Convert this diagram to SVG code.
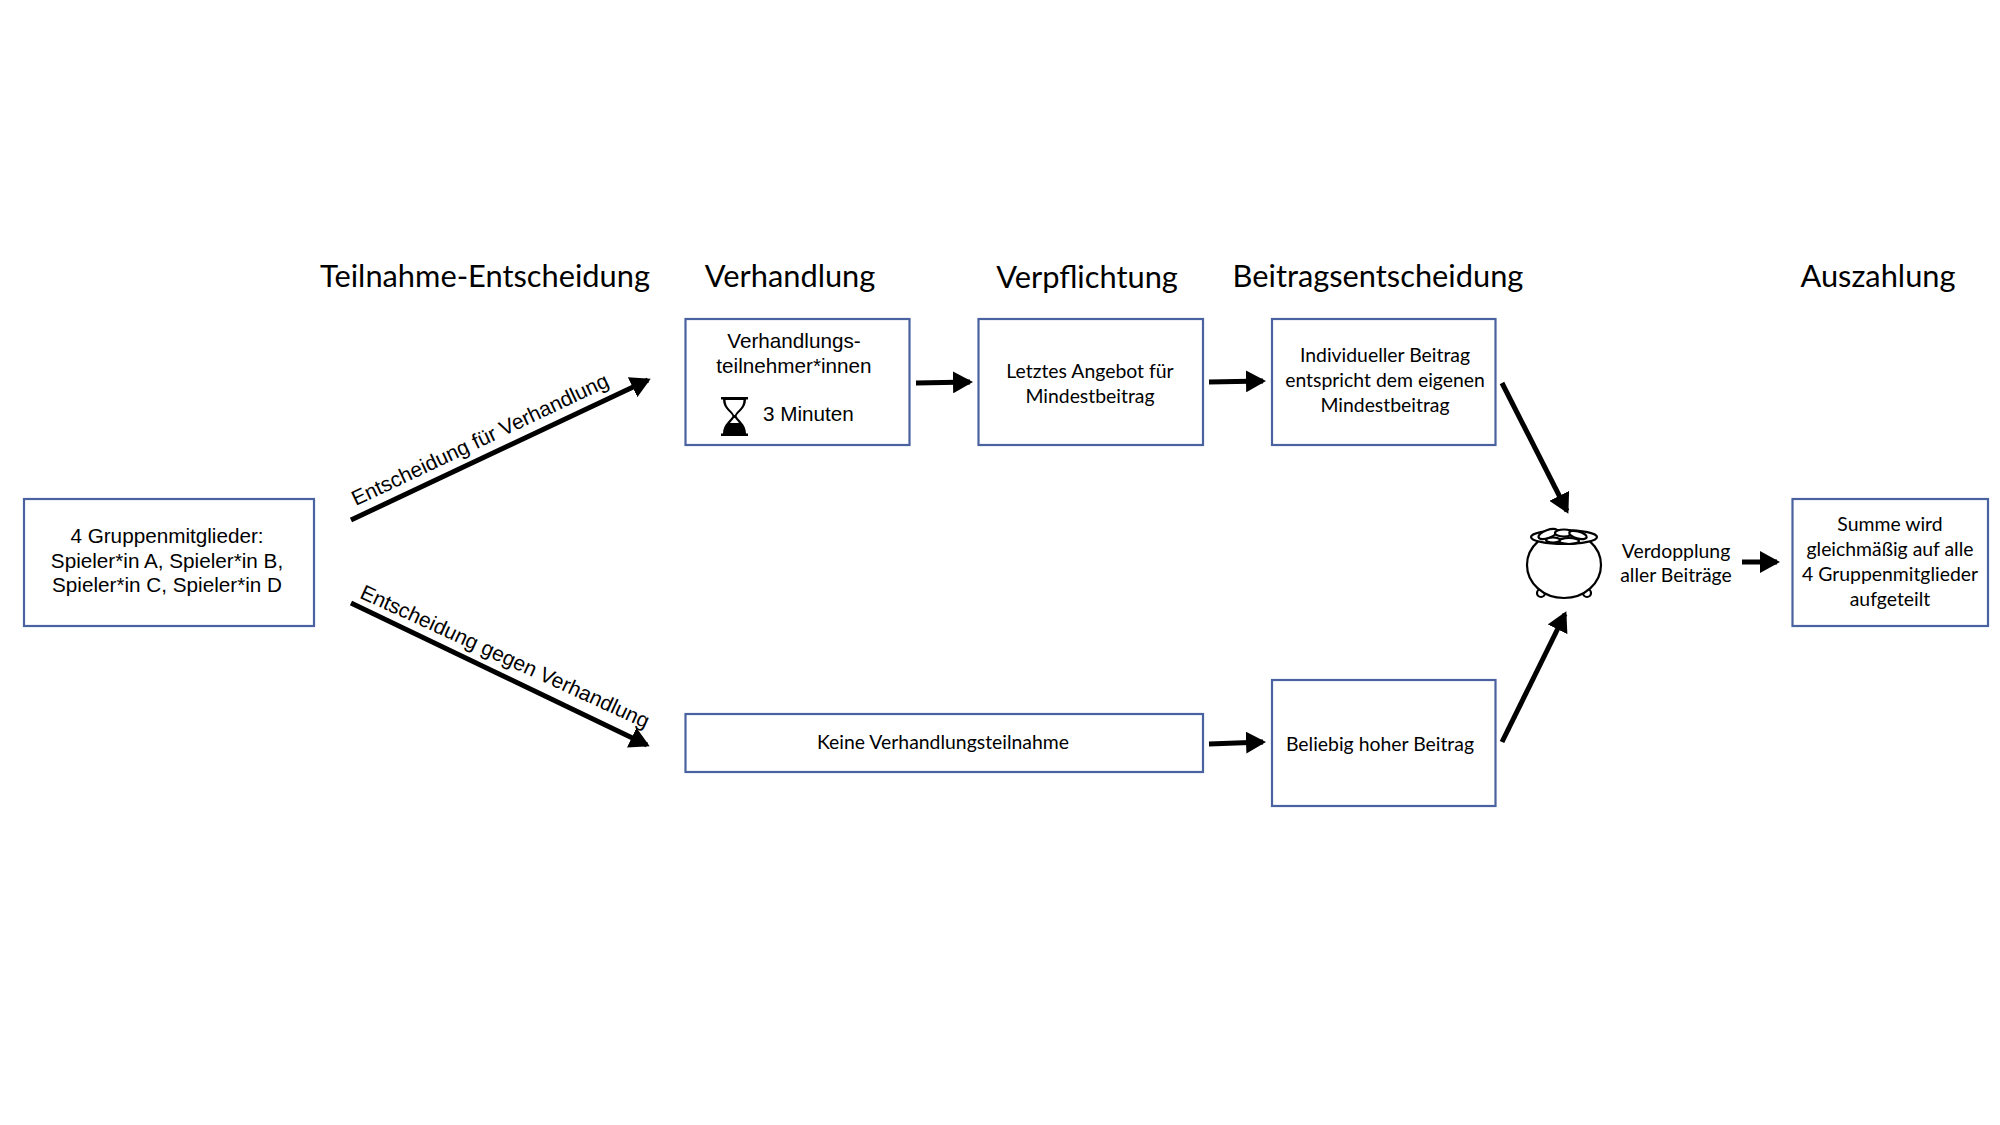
<svg xmlns="http://www.w3.org/2000/svg" width="2000" height="1125" viewBox="0 0 2000 1125">
<style>
.box{fill:#fff;stroke:#4a62a0;stroke-width:2.2}
.h{font:30.800px Lato,"Noto Sans",sans-serif;fill:#000;text-anchor:middle}
.c{font:19.400px Lato,"Noto Sans",sans-serif;fill:#000;text-anchor:middle}
.a{font:20.700px "Liberation Sans",Arial,sans-serif;fill:#000;text-anchor:middle}
.r{font:21px "Liberation Sans",Arial,sans-serif;fill:#000;text-anchor:middle}
.l{stroke:#000;stroke-width:5;fill:none;marker-end:url(#ah)}
.p{fill:#fff;stroke:#000;stroke-width:2.2}
</style>
<defs>
<marker id="ah" markerUnits="userSpaceOnUse" markerWidth="20" markerHeight="22" refX="17" refY="11" orient="auto" viewBox="0 0 20 22"><path d="M0 0L20 11L0 22Z" fill="#000"/></marker>
</defs>
<rect width="2000" height="1125" fill="#fff"/>
<g id="headers">
<text class="h" x="485" y="287">Teilnahme-Entscheidung</text>
<text class="h" x="790" y="287">Verhandlung</text>
<text class="h" x="1087" y="288">Verpflichtung</text>
<text class="h" x="1378" y="287">Beitragsentscheidung</text>
<text class="h" x="1878" y="287">Auszahlung</text>
</g>
<g id="connectors">
<path class="l" d="M351 520L648 380"/>
<path class="l" d="M351 603L647 745"/>
<path class="l" d="M916 383L970 382"/>
<path class="l" d="M1209 382L1263 381"/>
<path class="l" d="M1209 744L1263 742"/>
<path class="l" d="M1502 383L1567 511"/>
<path class="l" d="M1502 742L1565 614"/>
<path class="l" d="M1742 562L1777 562"/>
</g>
<g id="edge-labels">
<text class="r" transform="translate(483 446) rotate(-25.3)">Entscheidung für Verhandlung</text>
<text class="r" transform="translate(502 663) rotate(24.6)">Entscheidung gegen Verhandlung</text>
</g>
<g id="n-gruppe">
<rect class="box" x="24" y="499" width="290" height="127"/>
<text class="a" x="167" y="543">4 Gruppenmitglieder:</text>
<text class="a" x="167" y="568">Spieler*in A, Spieler*in B,</text>
<text class="a" x="167" y="592">Spieler*in C, Spieler*in D</text>
</g>
<g id="n-verhandlung">
<rect class="box" x="685.500" y="319" width="224" height="126"/>
<text class="a" x="794" y="348">Verhandlungs-</text>
<text class="a" x="794" y="373">teilnehmer*innen</text>
<path d="M721 397H748V399.500H746C746 409 738 412 736.500 416C738 420 746 424 746 433.500H748V436H721V433.500H723C723 424 731 420 732.500 416C731 412 723 409 723 399.500H721Z" fill="#000"/>
<path d="M725.500 400H743.500C743.500 408 736.500 411 735 415H734C732.500 411 725.500 408 725.500 400ZM734 418H735C736 420 738 421 739 423H730C731 421 733 420 734 418Z" fill="#fff"/>
<text class="a" x="763" y="421" style="text-anchor:start">3 Minuten</text>
</g>
<g id="n-verpflichtung">
<rect class="box" x="978.500" y="319" width="224.500" height="126"/>
<text class="c" x="1090" y="378">Letztes Angebot für</text>
<text class="c" x="1090" y="403">Mindestbeitrag</text>
</g>
<g id="n-beitrag">
<rect class="box" x="1272" y="319" width="223.500" height="126"/>
<text class="c" x="1385" y="362">Individueller Beitrag</text>
<text class="c" x="1385" y="387">entspricht dem eigenen</text>
<text class="c" x="1385" y="412">Mindestbeitrag</text>
</g>
<g id="n-keine">
<rect class="box" x="685.500" y="714" width="517.500" height="58"/>
<text class="c" x="943" y="749">Keine Verhandlungsteilnahme</text>
</g>
<g id="n-beliebig">
<rect class="box" x="1272" y="680" width="223.500" height="126"/>
<text class="c" x="1380" y="751">Beliebig hoher Beitrag</text>
</g>
<g id="n-topf">
<circle class="p" cx="1541" cy="593" r="4"/>
<circle class="p" cx="1587" cy="593" r="4"/>
<ellipse class="p" cx="1564" cy="565" rx="37" ry="33"/>
<ellipse class="p" cx="1564" cy="537" rx="33" ry="7"/>
<ellipse class="p" cx="1548" cy="534" rx="10" ry="4" transform="rotate(-20 1548 534)"/>
<ellipse class="p" cx="1564" cy="533" rx="9" ry="3.500"/>
<ellipse class="p" cx="1578" cy="535" rx="9" ry="3.500" transform="rotate(15 1578 535)"/>
<ellipse class="p" cx="1569" cy="541" rx="10" ry="3"/>
<ellipse class="p" cx="1553" cy="540" rx="7" ry="2.500"/>
</g>
<g id="n-verdopplung">
<text class="c" x="1676" y="558">Verdopplung</text>
<text class="c" x="1676" y="582">aller Beiträge</text>
</g>
<g id="n-summe">
<rect class="box" x="1792.500" y="499" width="195.500" height="127"/>
<text class="c" x="1890" y="531">Summe wird</text>
<text class="c" x="1890" y="556">gleichmäßig auf alle</text>
<text class="c" x="1890" y="581">4 Gruppenmitglieder</text>
<text class="c" x="1890" y="606">aufgeteilt</text>
</g>
</svg>
